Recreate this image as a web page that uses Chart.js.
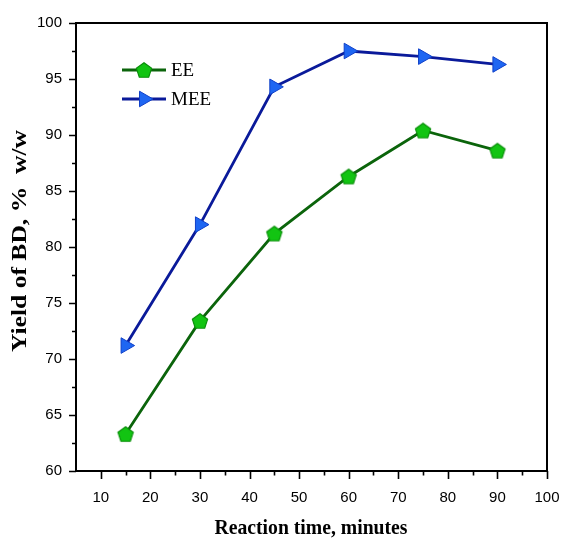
<!DOCTYPE html>
<html>
<head>
<meta charset="utf-8">
<script src="https://cdn.jsdelivr.net/npm/chart.js@4.4.1/dist/chart.umd.min.js"></script>
<style>
  html, body { margin: 0; padding: 0; background: #fff; }
  #wrap { width: 561px; height: 540px; }
</style>
</head>
<body>
<div id="wrap"><canvas id="c" width="561" height="540"></canvas></div>
<script>
// Reaction time (minutes) and biodiesel yield (% w/w)
const times = [15, 30, 45, 60, 75, 90];
const yieldEE = [63.3, 73.4, 81.2, 86.3, 90.4, 88.6];
const yieldMEE = [71.2, 82.0, 94.3, 97.5, 97.0, 96.3];
const seriesNames = ['EE', 'MEE'];
const xTickValues = [10, 20, 30, 40, 50, 60, 70, 80, 90, 100];
const yTickValues = [60, 65, 70, 75, 80, 85, 90, 95, 100];
const xTitle = 'Reaction time, minutes';
const yTitle = 'Yield of BD, %  w/w';

// Pentagon marker sprite
function pentagon(r, fill, stroke) {
  const s = Math.ceil(r * 2 + 4);
  const cv = document.createElement('canvas');
  cv.width = s; cv.height = s;
  const g = cv.getContext('2d');
  g.beginPath();
  for (let i = 0; i < 5; i++) {
    const a = -Math.PI / 2 + i * 2 * Math.PI / 5;
    const px = s / 2 + r * Math.cos(a), py = s / 2 + r * Math.sin(a) + 0.8;
    if (i === 0) g.moveTo(px, py); else g.lineTo(px, py);
  }
  g.closePath();
  g.fillStyle = fill; g.fill();
  g.lineWidth = 1.2; g.strokeStyle = stroke; g.stroke();
  return cv;
}
const pent = pentagon(8, '#12c412', '#0a8f0a');

const toXY = (vals) => times.map((t, i) => ({ x: t, y: vals[i] }));

// Draw text squeezed/stretched to a given width
function fitText(ctx, text, cx, cy, width) {
  const w = ctx.measureText(text).width;
  ctx.save();
  ctx.translate(cx, cy);
  ctx.scale(width / w, 1);
  ctx.fillText(text, 0, 0);
  ctx.restore();
}

// Frame, minor/major ticks, axis titles and legend
const decor = {
  id: 'decor',
  afterDraw(chart) {
    const { ctx, chartArea: a, scales } = chart;
    const xs = scales.x, ys = scales.y;
    ctx.save();
    ctx.strokeStyle = '#000';
    ctx.lineWidth = 2;
    ctx.strokeRect(a.left, a.top, a.right - a.left, a.bottom - a.top);
    ctx.lineWidth = 1.6;
    ctx.beginPath();
    for (let v = 10; v <= 100; v += 5) {
      const px = Math.round(xs.getPixelForValue(v)) + 0.5;
      const len = v % 10 === 0 ? 8 : 4.5;
      ctx.moveTo(px, a.bottom); ctx.lineTo(px, a.bottom + len);
    }
    for (let v = 60; v <= 100; v += 2.5) {
      const py = Math.round(ys.getPixelForValue(v)) + 0.5;
      const len = v % 5 === 0 ? 7 : 4;
      ctx.moveTo(a.left, py); ctx.lineTo(a.left - len, py);
    }
    ctx.stroke();

    // axis titles
    ctx.fillStyle = '#000';
    ctx.font = 'bold 21px "Liberation Serif", "Times New Roman", serif';
    ctx.textAlign = 'center';
    ctx.textBaseline = 'middle';
    fitText(ctx, xTitle, 311, 529, 193);
    ctx.save();
    ctx.translate(21, 241);
    ctx.rotate(-Math.PI / 2);
    ctx.font = 'bold 20px "Liberation Serif", "Times New Roman", serif';
    fitText(ctx, yTitle, 0, 0, 222);
    ctx.restore();

    // legend
    const rows = [70, 99];
    chart.data.datasets.forEach((ds, i) => {
      const y = rows[i];
      ctx.strokeStyle = ds.borderColor;
      ctx.lineWidth = ds.borderWidth;
      ctx.beginPath();
      ctx.moveTo(122, y); ctx.lineTo(166, y);
      ctx.stroke();
      ctx.fillStyle = ds.pointBackgroundColor;
      ctx.strokeStyle = ds.pointBorderColor;
      ctx.lineWidth = ds.pointBorderWidth;
      Chart.helpers.drawPoint(ctx, {
        pointStyle: ds.pointStyle,
        radius: ds.pointRadius,
        rotation: ds.pointRotation || 0,
        borderWidth: ds.pointBorderWidth
      }, 144, y);
      ctx.fillStyle = '#000';
      ctx.font = '19px "Liberation Serif", "Times New Roman", serif';
      ctx.textAlign = 'left';
      ctx.textBaseline = 'middle';
      ctx.fillText(ds.label, 171, y + 1);
    });
    ctx.restore();
  }
};

new Chart(document.getElementById('c'), {
  type: 'line',
  data: {
    datasets: [
      {
        label: seriesNames[0],
        data: toXY(yieldEE),
        borderColor: '#0b640b',
        borderWidth: 2.8,
        pointStyle: pent,
        pointRadius: 8,
        pointBorderWidth: 1,
        pointBackgroundColor: '#12c412',
        pointBorderColor: '#0a8f0a',
        tension: 0
      },
      {
        label: seriesNames[1],
        data: toXY(yieldMEE),
        borderColor: '#0a1a9a',
        borderWidth: 2.8,
        pointStyle: 'triangle',
        pointRotation: 90,
        pointRadius: 9,
        pointBorderWidth: 1,
        pointBackgroundColor: '#1e66f2',
        pointBorderColor: '#1040c8',
        tension: 0
      }
    ]
  },
  options: {
    responsive: false,
    animation: false,
    layout: { padding: { top: 23, right: 14, left: 0, bottom: 0 } },
    plugins: { legend: { display: false }, tooltip: { enabled: false } },
    scales: {
      x: {
        type: 'linear',
        min: 5, max: 100,
        afterBuildTicks: (s) => { s.ticks = xTickValues.map(v => ({ value: v })); },
        afterFit: (s) => { s.height = 69; s.paddingLeft = 0; s.paddingRight = 0; },
        grid: { display: false },
        border: { display: false },
        ticks: {
          color: '#000',
          padding: 10,
          maxRotation: 0,
          font: { family: '"Liberation Sans", Arial, sans-serif', size: 15 }
        }
      },
      y: {
        min: 60, max: 100,
        afterBuildTicks: (s) => { s.ticks = yTickValues.map(v => ({ value: v })); },
        afterFit: (s) => { s.width = 76; s.paddingTop = 0; s.paddingBottom = 0; },
        grid: { display: false },
        border: { display: false },
        ticks: {
          color: '#000',
          padding: 6,
          font: { family: '"Liberation Sans", Arial, sans-serif', size: 15 }
        }
      }
    }
  },
  plugins: [decor]
});
</script>
</body>
</html>
